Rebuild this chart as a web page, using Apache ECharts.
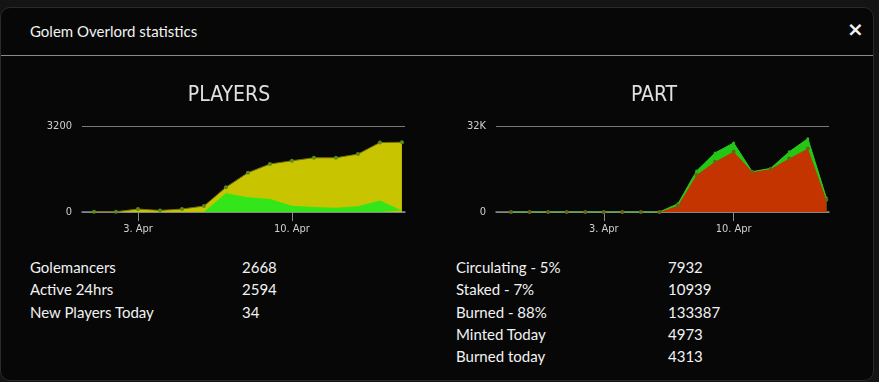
<!DOCTYPE html>
<html>
<head>
<meta charset="utf-8">
<script src="https://cdn.jsdelivr.net/npm/echarts@6/dist/echarts.min.js"></script>
<style>
  html, body { margin: 0; padding: 0; width: 879px; height: 382px; background: #141414; overflow: hidden; }
  #modal {
    position: absolute; left: 0; top: 7px; width: 872px; height: 372px;
    background: #070707; border: 1px solid #2a2a2a; border-radius: 10px;
    font-family: Lato, "Open Sans", sans-serif; color: #f2f2f2;
  }
  #head { position: absolute; left: 29px; top: 14px; font-size: 15px; }
  #close { position: absolute; left: 846px; top: 9px; font-size: 20px; font-weight: bold; font-family: "DejaVu Sans", sans-serif; }
  #sep { position: absolute; left: 0; right: 0; top: 47px; height: 1px; background: #8a8a8a; }
  .row { position: absolute; font-size: 15px; line-height: 18px; }
  #chart { position: absolute; left: 0; top: 0; width: 879px; height: 382px; }
</style>
</head>
<body>
<div id="modal">
  <div id="head">Golem Overlord statistics</div>
  <div id="close">×</div>
  <div id="sep"></div>
  <div id="stats"></div>
</div>
<div id="chart"></div>
<script>
// days of April (0 = 31 Mar, -1 = 30 Mar ...)
var playerDays = [1, 2, 3, 4, 5, 6, 7, 8, 9, 10, 11, 12, 13, 14, 15];
var playersTotal = [10, 10, 110, 60, 110, 220, 920, 1465, 1785, 1907, 2018, 2018, 2154, 2584, 2596];
var playersNew = [0, 0, 0, 0, 0, 10, 700, 553, 480, 234, 185, 160, 210, 430, 60];

var partDays = [-2, -1, 0, 1, 2, 3, 4, 5, 6, 7, 8, 9, 10, 11, 12, 13, 14, 15];
var partMinted = [0, 0, 0, 0, 0, 0, 0, 0, 0, 3075, 15250, 22000, 25700, 15000, 16240, 22400, 27300, 5170];
var partBurned = [0, 0, 0, 0, 0, 0, 0, 0, 0, 2340, 13780, 18700, 22400, 15000, 16000, 19900, 23600, 4550];

var tickDays = [3, 10];

var playerLabels = ['Golemancers', 'Active 24hrs', 'New Players Today'];
var playerValues = ['2668', '2594', '34'];
var partLabels = ['Circulating - 5%', 'Staked - 7%', 'Burned - 88%', 'Minted Today', 'Burned today'];
var partValues = ['7932', '10939', '133387', '4973', '4313'];

var stats = document.getElementById('stats');
function addRows(labels, values, xl, xv) {
  labels.forEach(function (l, i) {
    var top = 250 + i * 22.3;
    stats.insertAdjacentHTML('beforeend',
      '<div class="row" style="left:' + xl + 'px;top:' + top + 'px">' + l + '</div>' +
      '<div class="row" style="left:' + xv + 'px;top:' + top + 'px">' + values[i] + '</div>');
  });
}
addRows(playerLabels, playerValues, 29, 241);
addRows(partLabels, partValues, 455, 667);

function pairs(xs, ys) {
  return xs.map(function (x, i) { return [x, ys[i]]; });
}

var axisFont = { color: '#cfcfcf', fontSize: 11, fontFamily: '"DejaVu Sans Condensed", "DejaVu Sans", sans-serif' };
var headFont = { color: '#e0e0e0', fontSize: 21, fontWeight: 'normal',
  fontFamily: '"Liberation Sans Narrow", "DejaVu Sans Condensed", Roboto, sans-serif' };

function xAxis(grid, min, max) {
  return {
    type: 'value', gridIndex: grid, min: min, max: max,
    axisLine: { lineStyle: { color: '#8c8c8c', width: 1.5 } },
    axisTick: { customValues: tickDays, length: 9, lineStyle: { color: '#8c8c8c' } },
    axisLabel: Object.assign({ customValues: tickDays, margin: 12, formatter: function (v) { return v + '. Apr'; } }, axisFont),
    splitLine: { show: false }
  };
}
function yAxis(grid, max, fmt) {
  return {
    type: 'value', gridIndex: grid, min: 0, max: max, interval: max,
    axisLine: { show: false }, axisTick: { show: false },
    axisLabel: Object.assign({ margin: 10, formatter: fmt }, axisFont),
    splitLine: { lineStyle: { color: '#7a7a7a', width: 1 } }
  };
}

var chart = echarts.init(document.getElementById('chart'));
chart.setOption({
  backgroundColor: 'transparent',
  animation: false,
  title: [
    { text: 'PLAYERS', left: 224, top: 80, textAlign: 'center', textStyle: headFont },
    { text: 'PART', left: 649, top: 80, textAlign: 'center', textStyle: headFont }
  ],
  grid: [
    { left: 82, top: 126, width: 323, height: 86 },
    { left: 496, top: 126, width: 333, height: 86 }
  ],
  xAxis: [xAxis(0, 0.455, 15.14), xAxis(1, -2.81, 15.14)],
  yAxis: [
    yAxis(0, 3200, function (v) { return String(v); }),
    yAxis(1, 32000, function (v) { return v === 0 ? '0' : (v / 1000) + 'K'; })
  ],
  series: [
    { name: 'Players', type: 'line', xAxisIndex: 0, yAxisIndex: 0, data: pairs(playerDays, playersTotal),
      symbol: 'circle', symbolSize: 4, itemStyle: { color: '#5a8a18' },
      lineStyle: { color: '#6f6e08', width: 1 }, areaStyle: { color: '#c9c400', opacity: 1 } },
    { name: 'New players', type: 'line', xAxisIndex: 0, yAxisIndex: 0, data: pairs(playerDays, playersNew),
      showSymbol: false, lineStyle: { width: 0 }, areaStyle: { color: '#33e61a', opacity: 1 } },
    { name: 'Minted', type: 'line', xAxisIndex: 1, yAxisIndex: 1, data: pairs(partDays, partMinted),
      symbol: 'circle', symbolSize: 3, itemStyle: { color: '#2fb41a' },
      lineStyle: { color: '#2bd41a', width: 1 }, areaStyle: { color: '#22c814', opacity: 1 } },
    { name: 'Burned', type: 'line', xAxisIndex: 1, yAxisIndex: 1, data: pairs(partDays, partBurned),
      symbol: 'circle', symbolSize: 4, itemStyle: { color: '#6e6212' },
      lineStyle: { width: 0 }, areaStyle: { color: '#c33400', opacity: 1 } }
  ]
});
</script>
</body>
</html>
